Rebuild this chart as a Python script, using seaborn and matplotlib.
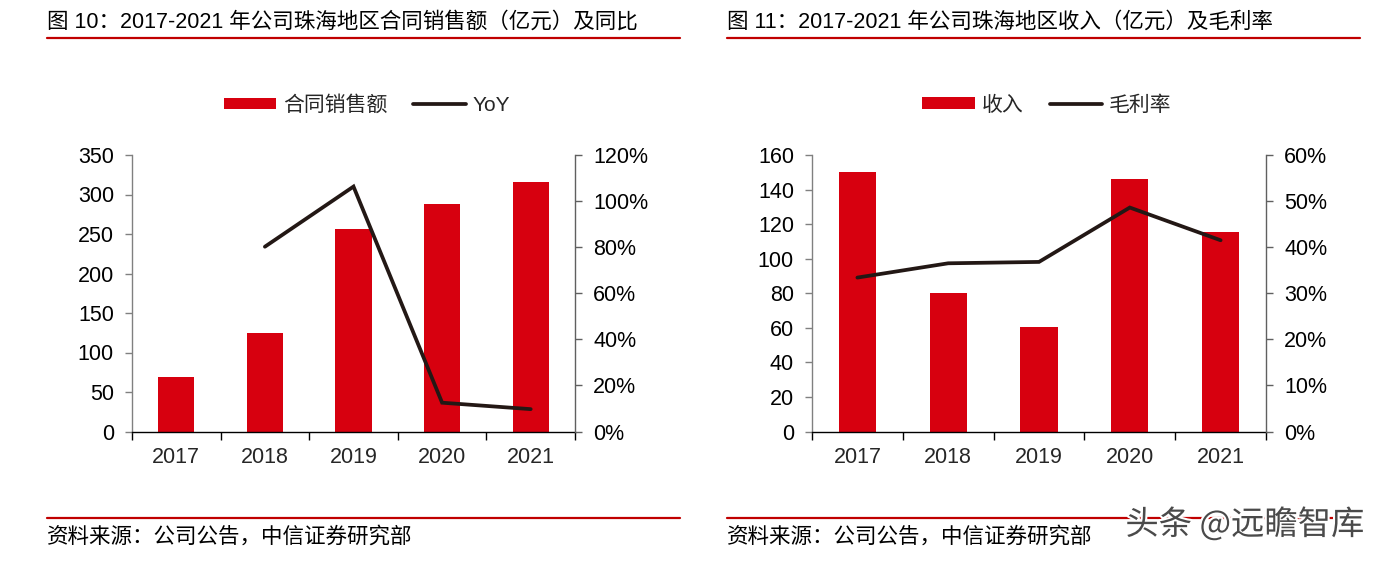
import numpy as np
import pandas as pd
import matplotlib
matplotlib.use("Agg")
import matplotlib.pyplot as plt
from matplotlib.patches import Patch
from matplotlib.lines import Line2D
from matplotlib.ticker import FuncFormatter, FixedLocator
import matplotlib.patheffects as pe
import seaborn as sns

# ---------------- data ----------------
years = ["2017", "2018", "2019", "2020", "2021"]
sales = [68.5, 124.4, 256.3, 288.6, 315.4]          # 合同销售额（亿元）
sales_yoy = [np.nan, 0.802, 1.063, 0.125, 0.097]     # YoY
revenue = [150.3, 80.0, 60.5, 146.3, 115.4]          # 收入（亿元）
gross_margin = [0.334, 0.365, 0.368, 0.486, 0.415]   # 毛利率

left_title = "图 10：2017-2021 年公司珠海地区合同销售额（亿元）及同比"
right_title = "图 11：2017-2021 年公司珠海地区收入（亿元）及毛利率"
source_text = "资料来源：公司公告，中信证券研究部"
left_labels = ["合同销售额", "YoY"]
right_labels = ["收入", "毛利率"]
watermark = "头条 @远瞻智库"

left_yticks = [0, 50, 100, 150, 200, 250, 300, 350]
left_y2ticks = [0, 0.2, 0.4, 0.6, 0.8, 1.0, 1.2]
right_yticks = [0, 20, 40, 60, 80, 100, 120, 140, 160]
right_y2ticks = [0, 0.1, 0.2, 0.3, 0.4, 0.5, 0.6]

# ---------------- style ----------------
sns.set_style("ticks")
plt.rcParams["font.family"] = ["Liberation Sans", "Noto Sans CJK SC", "DejaVu Sans"]
CJK = ["Noto Sans CJK SC", "DejaVu Sans"]
MIX = ["Liberation Sans", "Noto Sans CJK SC", "DejaVu Sans"]

RED = "#D7000F"
LINE = "#231815"
TITLE_RED = "#C00000"
W, H = 1388, 562

fig = plt.figure(figsize=(W / 100, H / 100), dpi=100)


def fx(px):
    return px / W


def fy(py):
    return 1 - py / H


def make_panel(x0, x1, vals, line_vals, yticks, y2ticks, labels, legend_cx,
               title, title_x, line_x0, line_x1):
    ax = fig.add_axes([fx(x0), fy(431.5), fx(x1 - x0), (431.5 - 155) / H])
    df = pd.DataFrame({"year": years, "val": vals})
    sns.barplot(data=df, x="year", y="val", color=RED, width=0.41,
                saturation=1, ax=ax, edgecolor="none")
    ax.set_ylim(yticks[0], yticks[-1])
    ax.set_yticks(yticks)
    ax.set_xlabel("")
    ax.set_ylabel("")
    ax2 = ax.twinx()
    ldf = pd.DataFrame({"pos": np.arange(len(years)), "v": line_vals}).dropna()
    sns.lineplot(data=ldf, x="pos", y="v", color=LINE, linewidth=2.7, ax=ax2,
                 solid_capstyle="round", solid_joinstyle="miter")
    ax2.set_ylim(y2ticks[0], y2ticks[-1])
    ax2.set_yticks(y2ticks)
    ax2.yaxis.set_major_formatter(FuncFormatter(lambda v, p: f"{v*100:.0f}%"))
    ax2.set_xlabel("")
    ax2.set_ylabel("")
    ax.set_xlim(-0.5, len(years) - 0.5)
    ax2.set_xlim(-0.5, len(years) - 0.5)

    for a in (ax, ax2):
        a.spines["top"].set_visible(False)
        a.spines["left"].set_color("#808080")
        a.spines["right"].set_color("#606060")
        a.spines["bottom"].set_color("black")
        for s in a.spines.values():
            s.set_linewidth(1.0)
    ax.spines["right"].set_visible(False)
    ax2.spines["left"].set_visible(False)
    ax2.spines["bottom"].set_visible(False)

    ax.tick_params(axis="y", direction="out", length=5, width=1, color="#808080",
                   labelsize=15.5, pad=8, labelcolor="black")
    ax2.tick_params(axis="y", direction="out", length=5, width=1, color="#606060",
                    labelsize=15.5, pad=8, labelcolor="black")
    ax.tick_params(axis="x", which="major", length=0, labelsize=15.5, pad=11)
    ax.xaxis.set_minor_locator(FixedLocator(np.arange(-0.5, len(years), 1.0)))
    ax.tick_params(axis="x", which="minor", length=6, width=1, color="black")

    handles = [Patch(facecolor=RED, edgecolor="none"),
               Line2D([0], [0], color=LINE, linewidth=2.7)]
    fig.legend(handles, labels, loc="center", bbox_to_anchor=(fx(legend_cx), fy(105)),
               ncol=2, frameon=False, prop={"family": MIX, "size": 15},
               handlelength=2.5, handleheight=0.5, handletextpad=0.35,
               columnspacing=1.25, borderpad=0)

    fig.text(fx(title_x), fy(22), title, fontsize=15.5, fontweight="medium",
             family=MIX, ha="left", va="center", color="black")
    fig.add_artist(Line2D([fx(line_x0), fx(line_x1)], [fy(38), fy(38)],
                          color=TITLE_RED, linewidth=1.6))
    fig.add_artist(Line2D([fx(line_x0), fx(line_x1)], [fy(518), fy(518)],
                          color=TITLE_RED, linewidth=1.6))
    fig.text(fx(title_x), fy(537), source_text, fontsize=15.5, family=CJK,
             ha="left", va="center", color="black")
    return ax, ax2


make_panel(132, 575, sales, sales_yoy, left_yticks, left_y2ticks, left_labels,
           367, left_title, 47, 47, 680)
make_panel(812, 1266, revenue, gross_margin, right_yticks, right_y2ticks, right_labels,
           1047, right_title, 727, 727, 1360)

fig.text(fx(1245), fy(525), watermark, fontsize=24, family=CJK, ha="center",
         va="center", color="#4a4a4a",
         path_effects=[pe.withStroke(linewidth=3, foreground="white")])

fig.savefig("out.png", dpi=100)
